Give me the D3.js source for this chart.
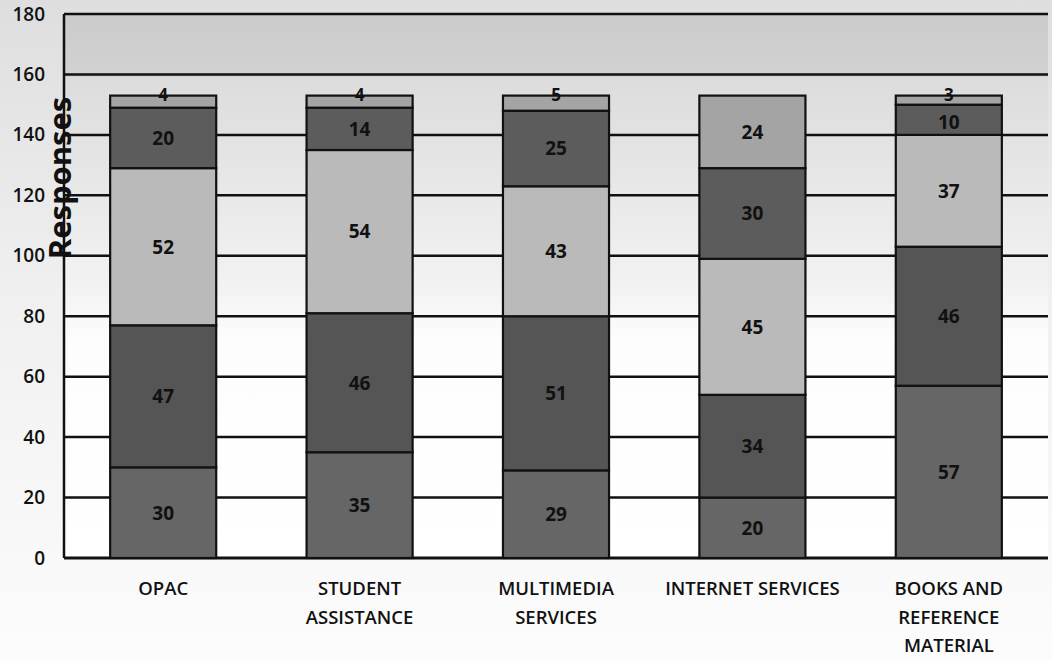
<!DOCTYPE html>
<html><head><meta charset="utf-8">
<script src="https://cdn.jsdelivr.net/npm/d3@7"></script>
<style>body{margin:0;background:#fff}svg{display:block}</style>
</head><body>
<svg id="c" width="1052" height="660"></svg>
<script>
const categories = ["OPAC", "STUDENT\nASSISTANCE", "MULTIMEDIA\nSERVICES", "INTERNET SERVICES", "BOOKS AND\nREFERENCE\nMATERIAL"];
const series1 = [30, 35, 29, 20, 57];
const series2 = [47, 46, 51, 34, 46];
const series3 = [52, 54, 43, 45, 37];
const series4 = [20, 14, 25, 30, 10];
const series5 = [4, 4, 5, 24, 3];
const yTicks = [0, 20, 40, 60, 80, 100, 120, 140, 160, 180];
const seriesColors = ["#666666", "#555555", "#bababa", "#5c5c5c", "#a4a4a4"];
const yTitle = "Responses";

const allSeries = [series1, series2, series3, series4, series5];
const rows = categories.map((c, i) => {
  const r = {cat: c};
  allSeries.forEach((s, k) => r["s" + k] = s[i]);
  return r;
});
const keys = allSeries.map((s, k) => "s" + k);
const stacked = d3.stack().keys(keys)(rows);

const svg = d3.select("#c");
const W = 1052, H = 660;
const m = {l: 64, r: 4, t: 14, b: 102};
const pw = W - m.l - m.r, ph = H - m.t - m.b;

const defs = svg.append("defs");
const pg = defs.append("linearGradient").attr("id", "pageg").attr("x1", 0).attr("y1", 0).attr("x2", 0).attr("y2", 1);
pg.append("stop").attr("offset", "0%").attr("stop-color", "#dedede");
pg.append("stop").attr("offset", "45%").attr("stop-color", "#f0f0f0");
pg.append("stop").attr("offset", "100%").attr("stop-color", "#fcfcfc");
const bg = defs.append("linearGradient").attr("id", "plotg").attr("x1", 0).attr("y1", 0).attr("x2", 0).attr("y2", 1);
bg.append("stop").attr("offset", "0%").attr("stop-color", "#cbcbcb");
bg.append("stop").attr("offset", "11.5%").attr("stop-color", "#d2d2d2");
bg.append("stop").attr("offset", "11.6%").attr("stop-color", "#dcdcdc");
bg.append("stop").attr("offset", "50%").attr("stop-color", "#f2f2f2");
bg.append("stop").attr("offset", "60%").attr("stop-color", "#fdfdfd");
bg.append("stop").attr("offset", "100%").attr("stop-color", "#ffffff");

svg.append("rect").attr("width", W).attr("height", H).attr("fill", "url(#pageg)");

const g = svg.append("g").attr("transform", `translate(${m.l},${m.t})`);
const x = d3.scaleBand().domain(categories).range([0, pw]).paddingInner(0.46).paddingOuter(0.235);
const y = d3.scaleLinear().domain([0, 180]).range([ph, 0]);

g.append("rect").attr("width", pw).attr("height", ph).attr("fill", "url(#plotg)");

// gridlines
g.append("g").selectAll("line").data(yTicks).join("line")
  .attr("x1", 0).attr("x2", pw)
  .attr("y1", d => y(d)).attr("y2", d => y(d))
  .attr("stroke", "#111").attr("stroke-width", d => d === 0 ? 3 : 2.5);

// left axis line
g.append("line").attr("x1", 0).attr("x2", 0).attr("y1", 0).attr("y2", ph)
  .attr("stroke", "#111").attr("stroke-width", 2.5);

// bars
const layers = g.append("g").selectAll("g").data(stacked).join("g")
  .attr("fill", (d, i) => seriesColors[i]);
layers.selectAll("rect").data(d => d).join("rect")
  .attr("x", d => x(d.data.cat))
  .attr("width", x.bandwidth())
  .attr("y", d => y(d[1]))
  .attr("height", d => y(d[0]) - y(d[1]))
  .attr("stroke", "#111").attr("stroke-width", 2.2);

// data labels
const lab = g.append("g").attr("font-family", "'Open Sans', sans-serif")
  .attr("font-weight", 700).attr("fill", "#111").attr("text-anchor", "middle");
stacked.forEach((layer, i) => {
  lab.selectAll(null).data(layer).join("text")
    .attr("x", d => x(d.data.cat) + x.bandwidth() / 2)
    .attr("y", d => (d[1] - d[0]) < 6 ? y(d[1]) - 1 : (y(d[0]) + y(d[1])) / 2 + ((d[1] - d[0]) < 12 ? 2 : 0))
    .attr("dy", "0.36em")
    .attr("font-size", d => (d[1] - d[0]) < 6 ? 17 : 19)
    .text(d => d[1] - d[0]);
});

// y tick labels
const yAxis = d3.axisLeft(y).tickValues(yTicks).tickSize(0).tickPadding(19);
const ya = g.append("g").call(yAxis);
ya.select(".domain").remove();
ya.selectAll("text").attr("font-family", "'Open Sans', sans-serif").attr("font-weight", 600)
  .attr("font-size", 19).attr("fill", "#111");

// x labels
const xl = g.append("g").attr("font-family", "'Open Sans', sans-serif").attr("font-weight", 600)
  .attr("font-size", 18.5).attr("fill", "#111").attr("text-anchor", "middle");
categories.forEach(c => {
  const t = xl.append("text").attr("x", x(c) + x.bandwidth() / 2).attr("y", ph + 37);
  c.split("\n").forEach((line, i) => {
    t.append("tspan").attr("x", x(c) + x.bandwidth() / 2).attr("dy", i === 0 ? 0 : 28.5).text(line);
  });
});

// y title
svg.append("text").attr("transform", `translate(71,${178}) rotate(-90)`)
  .attr("text-anchor", "middle").attr("font-family", "'Open Sans', sans-serif")
  .attr("font-weight", 700).attr("font-size", 31).attr("fill", "#111").text(yTitle);
</script>
</body></html>
